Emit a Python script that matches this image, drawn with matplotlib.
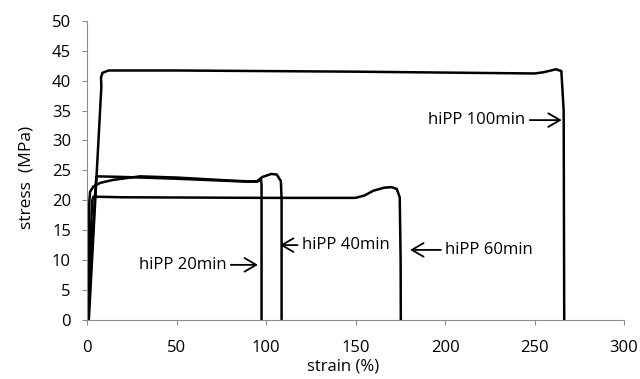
import matplotlib.pyplot as plt

# stress-strain curves (strain %, stress MPa)
strain_20 = [0.5, 1.2, 1.7, 3.5, 7.3, 14.5, 29.6, 50, 80, 95, 97.2, 97.5, 97.5]
stress_20 = [0, 19.5, 21.4, 22.3, 22.9, 23.4, 24.0, 23.8, 23.3, 23.1, 23.5, 22.5, 0]

strain_40 = [0.5, 4.8, 5.3, 20, 50, 90, 95, 98, 103, 106, 108.3, 108.7, 108.7]
stress_40 = [0, 22.5, 24.0, 23.9, 23.6, 23.1, 23.2, 23.9, 24.4, 24.3, 23.2, 20, 0]

strain_60 = [0.5, 2.8, 3.5, 20, 100, 150, 155, 160, 166, 170, 173, 174.7, 175.2, 175.3]
stress_60 = [0, 19.8, 20.6, 20.5, 20.4, 20.4, 20.8, 21.6, 22.1, 22.2, 21.9, 20.5, 10, 0]

strain_100 = [1.0, 8.0, 7.8, 8.6, 12, 50, 150, 250, 255, 262, 265, 266.3, 266.6]
stress_100 = [0, 39.0, 40.5, 41.3, 41.7, 41.7, 41.5, 41.2, 41.4, 41.9, 41.6, 35, 0]

labels = ['hiPP 20min', 'hiPP 40min', 'hiPP 60min', 'hiPP 100min']
# arrow tip (x, y) and text position (x, y)
tips = [(95.5, 9.2), (107.8, 12.5), (180.5, 11.7), (265.2, 33.4)]
texts = [(78, 9.2), (120, 12.5), (200, 11.7), (245, 33.4)]
aligns = ['right', 'left', 'left', 'right']

plt.rcParams['font.family'] = ['Open Sans', 'DejaVu Sans']

fig = plt.figure(figsize=(6.4, 3.79), dpi=100)
ax = fig.add_axes([0.136, 0.156, 0.839, 0.789])

for sx, sy in [(strain_20, stress_20), (strain_40, stress_40),
               (strain_60, stress_60), (strain_100, stress_100)]:
    ax.plot(sx, sy, color='black', lw=1.8, solid_joinstyle='round')

for lab, tip, txt, ha in zip(labels, tips, texts, aligns):
    ax.annotate(lab, xy=tip, xytext=txt, ha=ha, va='center', fontsize=12,
                arrowprops=dict(arrowstyle='->,head_length=0.6,head_width=0.35',
                                color='black', lw=1.3,
                                mutation_scale=14, shrinkA=1, shrinkB=0))

ax.set_xlim(0, 300)
ax.set_ylim(0, 50)
ax.set_xticks(range(0, 301, 50))
ax.set_yticks(range(0, 51, 5))
ax.set_xlabel('strain (%)', fontsize=12)
ax.set_ylabel('stress  (MPa)', fontsize=12.5)
ax.xaxis.set_label_coords(0.477, -0.13)
ax.yaxis.set_label_coords(-0.097, 0.478)

for s in ['top', 'right']:
    ax.spines[s].set_visible(False)
for s in ['left', 'bottom']:
    ax.spines[s].set_color('#8c8c8c')
ax.tick_params(direction='out', length=3.6, color='#8c8c8c', labelsize=12)
ax.tick_params(axis='x', pad=11)
ax.tick_params(axis='y', pad=8)

plt.savefig('out.png', dpi=100)
